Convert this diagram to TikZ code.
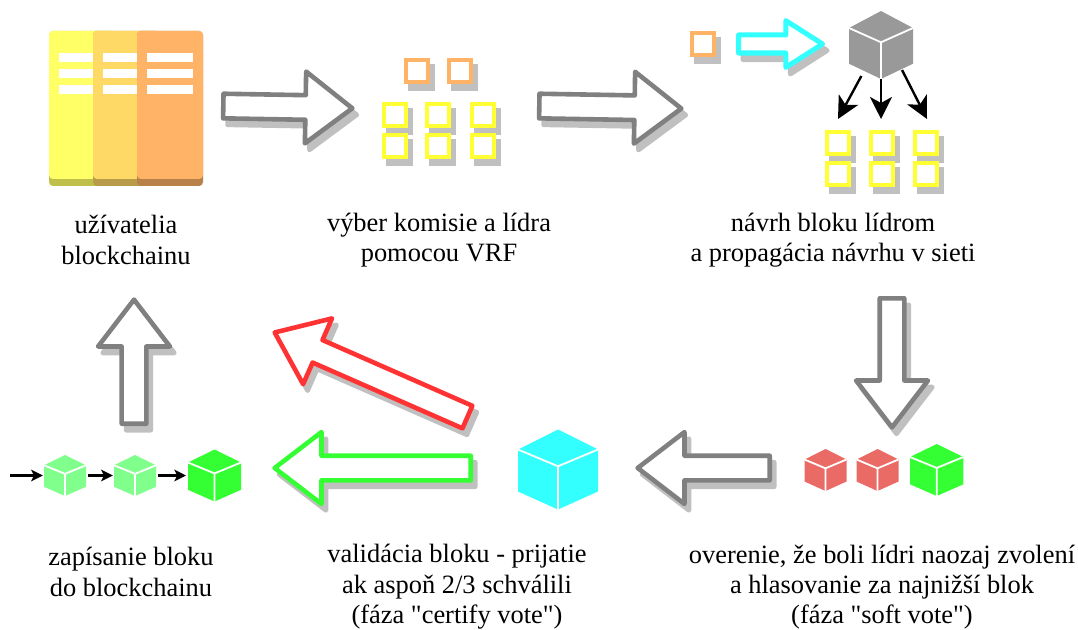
\documentclass[tikz,border=0pt]{standalone}
\usepackage{fontspec}
\setmainfont[Ligatures=TeXOff]{Liberation Serif}
\usetikzlibrary{shapes.arrows,arrows.meta}
\definecolor{shadowgray}{HTML}{C0C0C0}
\definecolor{arrowgray}{HTML}{808080}
\definecolor{cubegray}{HTML}{999999}
\definecolor{voteyellow}{HTML}{FFFF33}
\definecolor{leaderorange}{HTML}{FFB366}
\definecolor{ledgeryellow}{HTML}{FFFF66}
\definecolor{ledgeramber}{HTML}{FFD966}
\definecolor{certifycyan}{HTML}{33FFFF}
\definecolor{rejectred}{HTML}{FF3333}
\definecolor{acceptgreen}{HTML}{33FF33}
\definecolor{softgreen}{HTML}{80FF8C}
\definecolor{softred}{HTML}{EA6B66}
\tikzset{
  dropped/.style={preaction={draw=shadowgray,fill=shadowgray,transform canvas={xshift=0.1125cm,yshift=-0.1625cm}}},
  bigarrow/.style={single arrow,anchor=tail,dropped,draw=#1,fill=white,line width=0.115cm,line join=round,
    inner xsep=0pt,inner ysep=0.25cm,single arrow head extend=0.59cm,
    single arrow tip angle=75,single arrow head indent=0pt},
  thinarrow/.style={single arrow,anchor=tail,dropped,draw=#1,fill=white,line width=0.125cm,line join=round,
    inner xsep=0pt,inner ysep=0.1625cm,single arrow head extend=0.36cm,
    single arrow tip angle=65,single arrow head indent=0pt},
  sqbox/.style={dropped,draw=#1,fill=white,line width=0.11cm,inner sep=0pt,minimum size=0.55cm},
  cubebox/.style={inner sep=0pt,outer sep=0pt},
  caption/.style={align=center,font=\fontsize{18.8}{21.6}\selectfont},
  bigtip/.style={-{Stealth[length=0.55cm,width=0.55cm,inset=0.15cm]},line width=0.06cm},
  smalltip/.style={-{Stealth[length=0.29cm,width=0.29cm,inset=0.07cm]},line width=0.055cm}
}
% one isometric block, #4 and #5 are half width and half height
\newcommand{\blockcube}[6]{
  \node[cubebox,minimum width=#4*0.05cm,minimum height=#5*0.05cm] (#1) at (#2,#3) {};
  \begin{scope}[shift={(#2,#3)},xscale=#4,yscale=#5]
    \fill[#6] (0,-1) -- (1,-0.5) -- (1,0.55) -- (0,1) -- (-1,0.55) -- (-1,-0.5) -- cycle;
    \draw[white,line width=0.045cm] (-1,-0.5) -- (0,-0.08) -- (1,-0.5) (0,-0.08) -- (0,1);
  \end{scope}
}
% one ledger column with its three white bars
\newcommand{\ledger}[3]{
  \fill[#3,rounded corners=0.1cm] (#1,31) rectangle +(66,155);
  \fill[#2,rounded corners=0.1cm] (#1,31) rectangle +(66,148);
  \fill[white] (#1+10,53) rectangle +(46,9);
  \fill[white] (#1+10,69) rectangle +(46,9);
  \fill[white] (#1+10,85) rectangle +(46,9);
}
\begin{document}
\begin{tikzpicture}[x=0.025cm,y=-0.025cm]
\useasboundingbox (0,0) rectangle (1078,630);

% Draw the users
\ledger{49}{ledgeryellow}{ledgeryellow!75!black}
\ledger{93}{ledgeramber}{ledgeramber!72!black}
\ledger{137}{leaderorange}{leaderorange!72!black}
\node[caption] (usersText) at (126,240) {užívatelia\\blockchainu};

% Draw the committee
\node[bigarrow=arrowgray,minimum height=3.225cm,rotate=-1] (arrowA) at (221,106) {};
\node[sqbox=leaderorange] (leaderA) at (417,71) {};
\node[sqbox=leaderorange] (leaderB) at (460,71) {};
\node[sqbox=voteyellow] (memberA) at (395,115) {};
\node[sqbox=voteyellow] (memberB) at (438,115) {};
\node[sqbox=voteyellow] (memberC) at (483,115) {};
\node[sqbox=voteyellow] (memberD) at (395,146) {};
\node[sqbox=voteyellow] (memberE) at (438,146) {};
\node[sqbox=voteyellow] (memberF) at (483,146) {};
\node[caption] (committeeText) at (439,240) {výber komisie a lídra\\pomocou VRF};

% Draw the proposal
\node[bigarrow=arrowgray,minimum height=3.55cm,rotate=-1] (arrowB) at (537,106) {};
\node[sqbox=leaderorange] (proposer) at (703,44) {};
\node[thinarrow=certifycyan,minimum height=2.1cm] (arrowC) at (736,44) {};
\blockcube{proposal}{881}{45}{32}{34}{cubegray}
\coordinate (tipLeft) at (838,119);
\coordinate (tipMid) at (881,119);
\coordinate (tipRight) at (927,119);
\draw[bigtip] ([xshift=0.04cm,yshift=0.075cm]proposal.-122) -- (tipLeft);
\draw[bigtip] (proposal.south) -- (tipMid);
\draw[bigtip] ([xshift=-0.115cm,yshift=0.225cm]proposal.-53) -- (tipRight);
\node[sqbox=voteyellow] (peerA) at (838,143) {};
\node[sqbox=voteyellow] (peerB) at (882,143) {};
\node[sqbox=voteyellow] (peerC) at (926,143) {};
\node[sqbox=voteyellow] (peerD) at (838,174) {};
\node[sqbox=voteyellow] (peerE) at (882,174) {};
\node[sqbox=voteyellow] (peerF) at (926,174) {};
\node[caption] (proposalText) at (833,240) {návrh bloku lídrom\\a propagácia návrhu v sieti};

% Draw the soft vote
\node[bigarrow=arrowgray,minimum height=3.225cm,rotate=-90] (arrowD) at (892,296) {};
\blockcube{softA}{825.5}{470}{21}{21}{softred}
\blockcube{softB}{877.5}{470}{21}{21}{softred}
\blockcube{softC}{936.7}{470}{26.7}{26}{acceptgreen}
\node[caption] (softText) at (882,587) {overenie, že boli lídri naozaj zvolení\\a hlasovanie za najnižší blok\\(fáza "soft vote")};

% Draw the certify vote
\node[bigarrow=arrowgray,minimum height=3.3cm,rotate=180] (arrowE) at (772,468) {};
\blockcube{certified}{558}{469.5}{40}{40}{certifycyan}
\node[bigarrow=acceptgreen,minimum height=4.9cm,rotate=180] (arrowF) at (473,468) {};
\node[bigarrow=rejectred,minimum height=5.26cm,rotate=156.3] (arrowG) at (469.5,418) {};
\node[caption] (certifyText) at (457,587) {validácia bloku - prijatie\\ak aspoň 2/3 schválili\\(fáza "certify vote")};

% Draw the chain
\coordinate (chainStart) at (10,475.5);
\blockcube{chainA}{65}{475.5}{21}{20.5}{softgreen}
\blockcube{chainB}{135}{475.5}{21}{20.5}{softgreen}
\blockcube{chainC}{214.5}{475.5}{26.5}{26}{acceptgreen}
\draw[smalltip] (chainStart) -- ([xshift=-0.03cm]chainA.west);
\draw[smalltip] ([xshift=0.05cm]chainA.east) -- ([xshift=-0.03cm]chainB.west);
\draw[smalltip] ([xshift=0.05cm]chainB.east) -- ([xshift=-0.05cm]chainC.west);
\node[caption] (chainText) at (131,572) {zapísanie bloku\\do blockchainu};
\node[bigarrow=arrowgray,minimum height=3.1cm,rotate=90] (arrowH) at (134,426) {};
\end{tikzpicture}
\end{document}
